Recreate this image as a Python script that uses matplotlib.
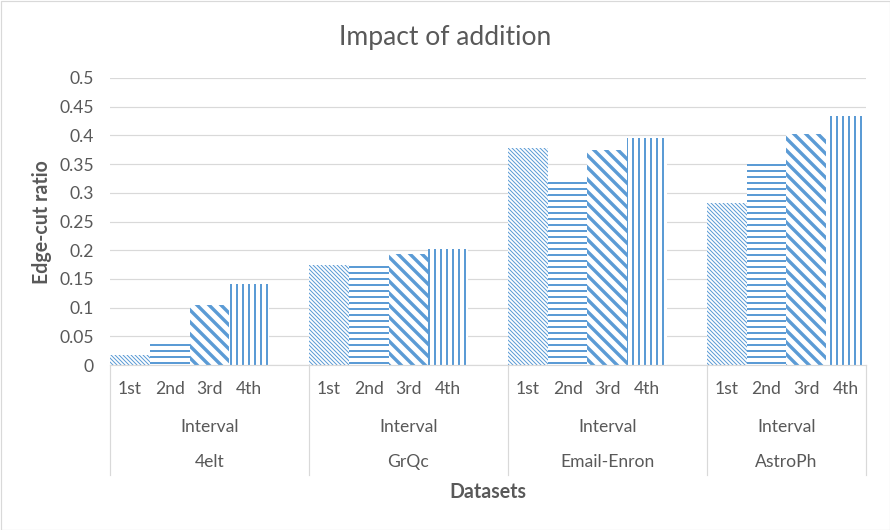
import matplotlib
matplotlib.use('Agg')
import matplotlib.pyplot as plt
import matplotlib.transforms as mtransforms
from matplotlib.patches import Rectangle

datasets = ['4elt', 'GrQc', 'Email-Enron', 'AstroPh']
intervals = ['1st', '2nd', '3rd', '4th']
first = [0.017, 0.175, 0.378, 0.282]
second = [0.038, 0.178, 0.321, 0.354]
third = [0.105, 0.193, 0.374, 0.403]
fourth = [0.141, 0.202, 0.395, 0.434]
yticks = [0, 0.05, 0.1, 0.15, 0.2, 0.25, 0.3, 0.35, 0.4, 0.45, 0.5]

series = [first, second, third, fourth]
hatches = ['\\\\\\\\\\\\', '--', '\\\\', '||']
hatch_lw = [1.0, 2.0, 3.4, 2.0]

blue = '#5B9BD5'
grid = '#D9D9D9'
txt = '#595959'
W, H = 890, 530
fs = 17.5

plt.rcParams['font.family'] = ['Lato', 'DejaVu Sans']
fig = plt.figure(figsize=(W / 72, H / 72), dpi=72)
ax = fig.add_axes([110 / W, 1 - 365 / H, (866 - 110) / W, (365 - 78) / H])

# 5 slots per dataset, the last one left blank (Excel gap)
for j, vals in enumerate(series):
    xs = [g * 5 + j for g in range(len(datasets))]
    bars = ax.bar(xs, vals, width=1.0, color='white', edgecolor=blue,
                  linewidth=0, hatch=hatches[j], zorder=2)
    for b in bars:
        if hasattr(b, 'set_hatch_linewidth'):
            b.set_hatch_linewidth(hatch_lw[j])

ax.set_xlim(-0.5, 18.5)
ax.set_ylim(0, 0.5)
ax.set_yticks(yticks)
ax.set_yticklabels(['0' if t == 0 else ('%g' % t) for t in yticks])
ax.set_xticks([])
ax.yaxis.grid(True, color=grid, linewidth=1.2, zorder=0)
ax.set_axisbelow(True)
for s in ax.spines.values():
    s.set_visible(False)
ax.tick_params(axis='y', length=0, pad=16, labelsize=fs, labelcolor=txt)

trans = mtransforms.blended_transform_factory(ax.transData, fig.transFigure)
def fy(py):
    return 1 - py / H

# category axis box
ax.plot([-0.5, 18.5], [fy(365), fy(365)], color=grid, lw=1.2, transform=trans, clip_on=False)
for xb in [-0.5, 4.5, 9.5, 14.5, 18.5]:
    ax.plot([xb, xb], [fy(365), fy(475)], color=grid, lw=1.2, transform=trans, clip_on=False)

for g, name in enumerate(datasets):
    for j, lab in enumerate(intervals):
        ax.text(g * 5 + j, fy(389), lab, transform=trans, ha='center', va='center',
                fontsize=fs, color=txt)
    lo = g * 5 - 0.5
    hi = min(g * 5 + 4.5, 18.5)
    ax.text((lo + hi) / 2, fy(427), 'Interval', transform=trans, ha='center', va='center',
            fontsize=fs, color=txt)
    ax.text((lo + hi) / 2, fy(462), name, transform=trans, ha='center', va='center',
            fontsize=fs, color=txt)

fig.text(42 / W, fy(222), 'Edge-cut ratio', rotation=90, ha='center', va='center',
         fontsize=19.5, fontweight='bold', color=txt)
fig.text(488 / W, fy(492), 'Datasets', ha='center', va='center', fontsize=19.5,
         fontweight='bold', color=txt)
fig.text(445 / W, fy(37), 'Impact of addition', ha='center', va='center', fontsize=26.5,
         color=txt)

fig.patches.append(Rectangle((0.5 / W, 0.5 / H), 1 - 1 / W, 1 - 1 / H, transform=fig.transFigure,
                             fill=False, edgecolor=grid, lw=1.2))

fig.savefig('out.png', dpi=72)
